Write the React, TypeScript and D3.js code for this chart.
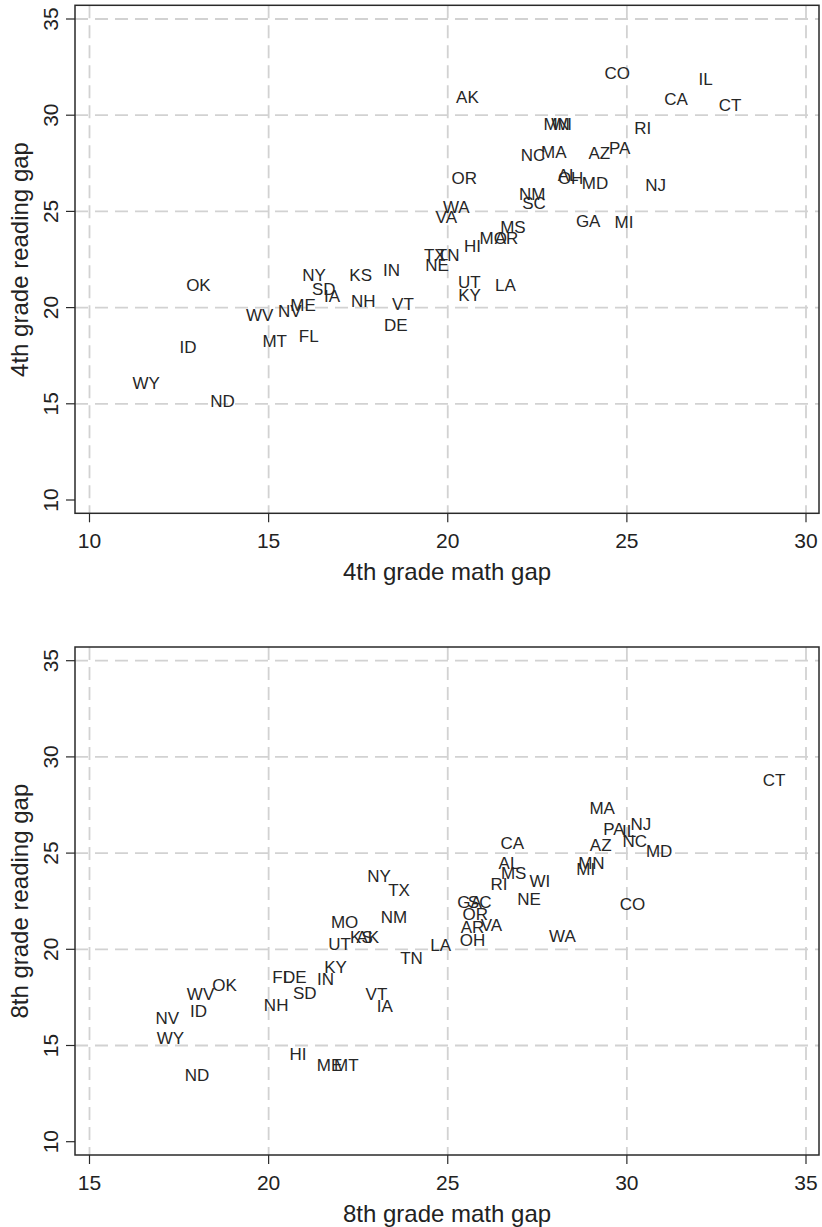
import React from "react";
import * as d3 from "d3";

// ---------- 4th grade data ----------
const states4 = ["OK","ID","WY","ND","WV","NV","ME","MT","FL","NY","SD","IA","KS","NH","IN","VT","DE","TX","TN","NE","UT","KY","LA","HI","MO","AR","MS","WA","VA","OR","NM","SC","CO","IL","CA","CT","AK","MN","WI","RI","NC","MA","AZ","PA","AL","OH","MD","NJ","GA","MI"];
const math4 = [13.04,12.75,11.58,13.71,14.75,15.59,15.96,15.17,16.12,16.27,16.54,16.77,17.57,17.64,18.43,18.75,18.55,19.64,20.01,19.70,20.60,20.61,21.61,20.69,21.27,21.64,21.82,20.24,19.96,20.46,22.36,22.41,24.73,27.20,26.37,27.88,20.55,23.04,23.18,25.44,22.38,22.96,24.23,24.80,23.36,23.43,24.11,25.80,23.92,24.92];
const read4 = [21.20,17.98,16.11,15.17,19.60,19.81,20.12,18.28,18.51,21.68,20.99,20.63,21.72,20.36,21.98,20.21,19.11,22.76,22.76,22.20,21.34,20.68,21.18,23.23,23.63,23.60,24.18,25.24,24.72,26.76,25.89,25.45,32.22,31.91,30.83,30.52,30.95,29.53,29.53,29.32,27.92,28.10,28.06,28.28,26.89,26.75,26.49,26.37,24.53,24.46];

// ---------- 8th grade data ----------
const states8 = ["CA","AL","MS","RI","WI","NE","GA","SC","OR","AR","VA","OH","NY","TX","NM","MO","UT","KS","AK","LA","TN","KY","IN","FL","DE","SD","NH","VT","IA","OK","WV","ID","NV","WY","ND","HI","ME","MT","CT","MA","PA","IL","NJ","NC","MD","AZ","MN","MI","CO","WA"];
const math8 = [26.80,26.71,26.84,26.43,27.57,27.27,25.61,25.89,25.77,25.69,26.22,25.69,23.08,23.64,23.50,22.12,21.98,22.59,22.77,24.80,23.99,21.87,21.59,20.38,20.73,21.01,20.21,23.01,23.24,18.77,18.10,18.04,17.17,17.26,18.00,20.82,21.70,22.17,34.11,29.31,29.64,30.06,30.39,30.22,30.90,29.27,29.01,28.85,30.16,28.20];
const read8 = [25.53,24.50,23.98,23.41,23.54,22.63,22.45,22.45,21.85,21.19,21.28,20.50,23.80,23.11,21.71,21.45,20.29,20.63,20.67,20.24,19.54,19.11,18.47,18.56,18.56,17.75,17.12,17.69,17.05,18.16,17.66,16.78,16.45,15.41,13.49,14.54,13.97,13.97,28.82,27.33,26.26,26.14,26.52,25.65,25.13,25.45,24.50,24.18,22.37,20.72];

// ---------- axes ----------
const xTicks4 = [10, 15, 20, 25, 30];
const xTicks8 = [15, 20, 25, 30, 35];
const yTicks = [10, 15, 20, 25, 30, 35];
const yGrid = [15, 20, 25, 30, 35];

const FONT = "'Liberation Sans', Arial, Helvetica, sans-serif";

type PanelProps = {
  names: string[];
  xs: number[];
  ys: number[];
  xTicks: number[];
  top: number; // y pixel of frame top
  xTitle: string;
  yTitle: string;
};

function Panel({ names, xs, ys, xTicks, top, xTitle, yTitle }: PanelProps) {
  const frameL = 75;
  const frameR = 819;
  const frameT = top;
  const frameB = top + 508;
  const x = d3
    .scaleLinear()
    .domain([xTicks[0], xTicks[xTicks.length - 1]])
    .range([89.5, 806]);
  const y = d3
    .scaleLinear()
    .domain([10, 35])
    .range([top + 494.7, top + 13.7]);
  const gridStyle = {
    stroke: "#d2d2d2",
    strokeWidth: 1.8,
    strokeDasharray: "13 7",
    fill: "none",
  };
  return (
    <g>
      {/* grid */}
      {xTicks.map((t) => (
        <line key={"gx" + t} x1={x(t)} x2={x(t)} y1={frameT} y2={frameB} style={gridStyle} />
      ))}
      {yGrid.map((t) => (
        <line key={"gy" + t} x1={frameL} x2={frameR} y1={y(t)} y2={y(t)} style={gridStyle} />
      ))}
      {/* frame */}
      <rect
        x={frameL}
        y={frameT}
        width={frameR - frameL}
        height={frameB - frameT}
        fill="none"
        stroke="#2a2a2a"
        strokeWidth={1.5}
      />
      {/* x axis ticks */}
      {xTicks.map((t) => (
        <g key={"xt" + t}>
          <line x1={x(t)} x2={x(t)} y1={frameB} y2={frameB + 9} stroke="#2a2a2a" strokeWidth={1.2} />
          <text
            x={x(t)}
            y={frameB + 27.5}
            dy="0.36em"
            textAnchor="middle"
            fontFamily={FONT}
            fontSize={21}
            fill="#222"
          >
            {t}
          </text>
        </g>
      ))}
      <text
        x={447}
        y={frameB + 58.5}
        dy="0.36em"
        textAnchor="middle"
        fontFamily={FONT}
        fontSize={24}
        fill="#222"
      >
        {xTitle}
      </text>
      {/* y axis ticks */}
      {yTicks.map((t) => (
        <g key={"yt" + t}>
          <line x1={frameL - 9} x2={frameL} y1={y(t)} y2={y(t)} stroke="#2a2a2a" strokeWidth={1.2} />
          <text
            transform={`translate(58,${y(t)}) rotate(-90)`}
            textAnchor="middle"
            fontFamily={FONT}
            fontSize={21}
            fill="#222"
          >
            {t}
          </text>
        </g>
      ))}
      <text
        transform={`translate(28,${(y(10) + y(35)) / 2}) rotate(-90)`}
        textAnchor="middle"
        fontFamily={FONT}
        fontSize={24}
        fill="#222"
      >
        {yTitle}
      </text>
      {/* state labels */}
      {names.map((n, i) => (
        <text
          key={n}
          x={x(xs[i])}
          y={y(ys[i])}
          dy="0.36em"
          textAnchor="middle"
          fontFamily={FONT}
          fontSize={17}
          fill="#262626"
        >
          {n}
        </text>
      ))}
    </g>
  );
}

export default function App() {
  return (
    <svg
      width={822}
      height={1227}
      style={{ position: "absolute", left: 0, top: 0, display: "block", background: "#fff" }}
    >
      <rect x={0} y={0} width={822} height={1227} fill="#fff" />
      <Panel
        names={states4}
        xs={math4}
        ys={read4}
        xTicks={xTicks4}
        top={5.3}
        xTitle="4th grade math gap"
        yTitle="4th grade reading gap"
      />
      <Panel
        names={states8}
        xs={math8}
        ys={read8}
        xTicks={xTicks8}
        top={647}
        xTitle="8th grade math gap"
        yTitle="8th grade reading gap"
      />
    </svg>
  );
}
